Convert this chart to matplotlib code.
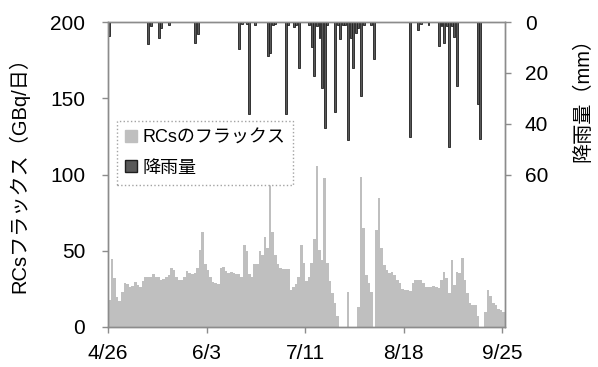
import numpy as np
import pandas as pd
import matplotlib
matplotlib.use("Agg")
import matplotlib.pyplot as plt
from matplotlib.patches import Patch

plt.rcParams['font.family'] = ['Liberation Sans', 'Noto Sans CJK JP']

dates = pd.date_range('2012-04-26', '2012-09-25', freq='D')

# daily RCs flux (GBq/day)
flux = [17.7, 44.4, 32, 19.5, 17, 23, 29, 28, 26, 27,
        29.5, 27.5, 26.5, 30, 32.5, 32.5, 33, 34.5, 33, 32.5,
        30.5, 31.5, 32.5, 34, 39, 37.5, 33, 31, 30.5, 33,
        36.5, 35.5, 35, 35.5, 38.5, 50.5, 62.5, 41, 37.5, 33,
        29.5, 29, 28, 38.5, 39.5, 36.5, 35.5, 36, 35.5, 35,
        35, 33, 54, 50, 35, 33, 41, 41, 50, 47,
        59, 52, 93, 62.5, 47, 41, 39, 38, 38, 38,
        24, 26, 28, 33, 54, 42, 30, 33, 42, 58,
        105.6, 50.5, 44, 97.5, 42, 30, 22, 16, 7, 0,
        0, 0, 23, 0, 0, 0, 13.3, 98.6, 64.7, 34,
        28.6, 23, 0, 63.6, 84.4, 51.6, 40.7, 37.4, 35.6, 36.3,
        34, 30.8, 28.6, 24.7, 24.3, 24, 23.6, 29, 30.8, 30.5,
        30.8, 29, 26.5, 26, 26.5, 27, 26.5, 25.5, 30.8, 36.3,
        32, 22, 44, 27.5, 36.3, 35.5, 45, 30.8, 22, 15.5,
        14.4, 14.4, 7, 0, 0, 10, 24.3, 20, 15.5, 14.4,
        12, 11, 10]

# rainy days (index from 4/26) and rainfall (mm)
rain_days = [0, 15, 16, 19, 20, 23, 33, 34, 50, 51, 53, 54, 56, 61, 62, 63, 64,
             68, 69, 71, 72, 73, 77, 78, 79, 80, 81, 82, 83, 84, 87, 88, 89, 90,
             91, 92, 93, 94, 95, 96, 97, 98, 101, 102, 116, 119, 120, 123, 127,
             128, 129, 130, 131, 132, 133, 134, 142, 143]
rain_mm = [5.5, 8.8, 1.6, 6.2, 2.2, 1.2, 8.2, 4.9, 10.8, 0.9, 0.6, 36.3, 1.0,
           13.5, 12.2, 1.0, 0.8, 36, 1.0, 2.0, 1.0, 18.1, 1.0, 9.9, 21.4, 1.5,
           6.2, 26, 41.7, 1.2, 35.3, 1.0, 6.5, 1.0, 1.0, 46.5, 6.2, 18.1, 4.2,
           2.5, 29, 1.0, 1.0, 14.4, 45.2, 3.3, 0.8, 1.0, 9.5, 1.5, 8.2, 1.5,
           49.2, 1.5, 5.9, 25, 32.4, 46.2]

rain = np.zeros(len(dates))
rain[rain_days] = rain_mm

tick_idx = [0, 38, 76, 114, 152]
tick_labels = [f"{dates[i].month}/{dates[i].day}" for i in tick_idx]

fig = plt.figure(figsize=(5.98, 3.67), dpi=100)
ax = fig.add_axes([0.1806, 0.109, 0.664, 0.831])
x = np.arange(len(dates))

ax.bar(x, flux, width=1.0, align='edge', color='#bfbfbf', linewidth=0)
ax.set_xlim(0, len(dates))
ax.set_ylim(0, 200)
ax.set_yticks([0, 50, 100, 150, 200])
ax.set_xticks(tick_idx)
ax.set_xticklabels(tick_labels)
ax.set_ylabel('RCsフラックス（GBq/日）', fontsize=14.5)
ax.yaxis.set_label_coords(-0.199, 0.515)

ax2 = ax.twinx()
ax2.bar(x + 0.5, rain, width=0.75, color='#595959', edgecolor='#1e1e1e', linewidth=0.6)
ax2.set_ylim(120, 0)
ax2.set_yticks([0, 20, 40, 60])
ax2.set_ylabel('降雨量（mm）', fontsize=14.5)
ax2.yaxis.set_label_coords(1.171, 0.76)

for a in (ax, ax2):
    for s in a.spines.values():
        s.set_color('#8c8c8c')
        s.set_linewidth(1.0)
    a.tick_params(labelsize=15, color='#8c8c8c', length=4.3, width=1)
ax.tick_params(axis='y', pad=12)
ax.tick_params(axis='x', pad=8)
ax2.tick_params(axis='y', pad=10)

handles = [Patch(facecolor='#bfbfbf', edgecolor='#bfbfbf', label='RCsのフラックス'),
           Patch(facecolor='#595959', edgecolor='#1e1e1e', label='降雨量')]
leg = ax.legend(handles=handles, loc='upper left', bbox_to_anchor=(0.023, 0.675),
                borderaxespad=0, fontsize=13, frameon=True, fancybox=False,
                handlelength=0.65, handleheight=0.65, handletextpad=0.3,
                borderpad=0.45, labelspacing=0.75)
leg.get_frame().set_edgecolor('#8c8c8c')
leg.get_frame().set_linestyle(':')
leg.get_frame().set_linewidth(1.0)

fig.savefig('out.png', dpi=100)
